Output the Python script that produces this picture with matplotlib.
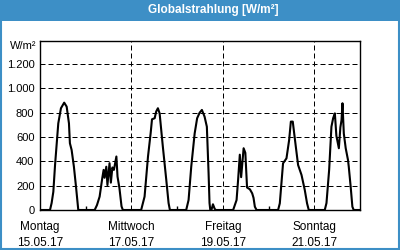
import matplotlib
matplotlib.use("Agg")
import matplotlib.pyplot as plt
from matplotlib.patches import Rectangle
import numpy as np

plt.rcParams['font.family'] = ['Liberation Sans', 'DejaVu Sans']

title = "Globalstrahlung [W/m²]"
unit_label = "W/m²"

# hours of day and values (W/m²) for each day, 15.05.17 - 21.05.17
mon_h = [0, 5.25, 6.1, 7.0, 7.9, 9.6, 11.0, 12.7, 14.0, 15.2, 15.7, 16.6, 17.8, 18.9, 20.1, 24]
mon_v = [0, 0, 57, 150, 370, 713, 837, 883, 850, 713, 549, 494, 356, 192, 0, 0]
tue_h = [4.7, 5.9, 7.3, 8.7, 9.4, 9.9, 10.8, 11.4, 12.5, 13.2, 14.0, 14.8, 16.1, 16.7, 17.7, 18.8, 19.5, 24]
tue_v = [0, 40, 110, 263, 330, 265, 356, 205, 385, 225, 350, 330, 440, 275, 180, 30, 0, 0]
wed_h = [5.1, 6.9, 8.7, 10.1, 10.8, 12.2, 13.0, 13.9, 14.8, 16.5, 18.3, 19.5, 20.2, 24]
wed_v = [0, 110, 440, 633, 746, 755, 810, 837, 795, 520, 247, 57, 0, 0]
thu_h = [4.75, 6.0, 7.4, 9.2, 10.5, 11.8, 13.0, 14.4, 15.6, 16.5, 17.0, 17.4, 18.0, 18.8, 19.7, 20.3, 24]
thu_v = [0, 82, 356, 630, 755, 800, 823, 768, 685, 305, 57, 0, 0, 47, 10, 0, 0]
fri_h = [5.4, 7.2, 8.0, 8.9, 9.6, 10.9, 11.8, 12.7, 14.2, 15.4, 16.1, 16.8, 17.7, 24]
fri_v = [0, 82, 247, 455, 270, 508, 470, 185, 170, 137, 100, 27, 0, 0]
sat_h = [5.0, 5.9, 7.6, 9.4, 10.8, 11.7, 12.7, 14.3, 15.5, 17.3, 19.0, 20.2, 21.1, 24]
sat_v = [0, 55, 384, 425, 576, 727, 727, 521, 370, 288, 165, 55, 0, 0]
sun_h = [5.5, 6.4, 7.8, 9.0, 9.9, 10.8, 11.6, 12.9, 13.7, 14.3, 14.8, 15.5, 16.5, 17.7, 18.1, 19.1, 20.0, 20.7, 24]
sun_v = [0, 57, 330, 685, 755, 795, 610, 508, 680, 740, 878, 630, 508, 411, 356, 192, 27, 0, 0]

day_hours = [mon_h, tue_h, wed_h, thu_h, fri_h, sat_h, sun_h]
day_values = [mon_v, tue_v, wed_v, thu_v, fri_v, sat_v, sun_v]

tick_days = [0, 2, 4, 6]
tick_labels = ["Montag\n15.05.17", "Mittwoch\n17.05.17", "Freitag\n19.05.17", "Sonntag\n21.05.17"]
minor_days = [1, 3, 5]
y_ticks = [0, 200, 400, 600, 800, 1000, 1200]
y_labels = ["0", "200", "400", "600", "800", "1.000", "1.200"]

x = np.concatenate([d + np.array(h) / 24.0 for d, h in enumerate(day_hours)])
y = np.concatenate([np.array(v, dtype=float) for v in day_values])

fig = plt.figure(figsize=(4, 2.5), dpi=100)
fig.patch.set_facecolor('white')
blue = '#3d8fc6'
fig.patches.append(Rectangle((0, 0.916), 1, 0.084, transform=fig.transFigure,
                             facecolor=blue, edgecolor='none', zorder=0))
fig.patches.append(Rectangle((0.002, 0.003), 0.996, 0.994, transform=fig.transFigure,
                             facecolor='none', edgecolor=blue, linewidth=1.5, zorder=1))
fig.text(0.534, 0.958, title, color='white', fontsize=8.5, fontweight='bold',
         ha='center', va='center')

ax = fig.add_axes([0.1, 0.16, 0.8, 0.676])
ax.plot(x, y, color='black', linewidth=1.5, zorder=3)
ax.set_xlim(0, 7)
ax.set_ylim(0, 1390)
ax.set_xticks(tick_days)
ax.set_xticklabels(tick_labels, fontsize=8.5, linespacing=1.45)
ax.set_xticks(minor_days, minor=True)
ax.set_yticks(y_ticks)
ax.set_yticklabels(y_labels, fontsize=8)
ax.tick_params(axis='y', length=0, pad=4)
ax.tick_params(axis='x', which='major', length=0, pad=8)
ax.tick_params(axis='x', which='minor', length=3, direction='in', width=1)
ax.grid(True, which='major', color='black', linestyle=(0, (5, 3)), linewidth=0.72)
for s in ax.spines.values():
    s.set_linewidth(1.0)
fig.text(0.09, 0.816, unit_label, fontsize=8, ha='right', va='center')

fig.savefig('out.png', dpi=100)
